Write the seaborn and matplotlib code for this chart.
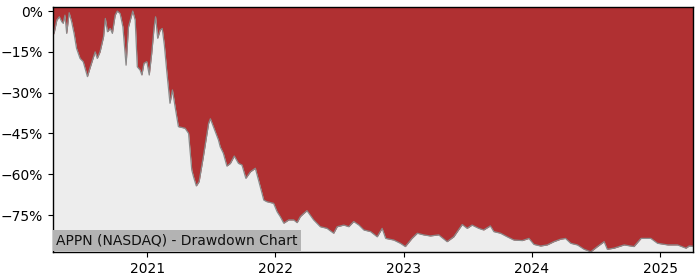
import matplotlib
matplotlib.use("Agg")
import matplotlib.pyplot as plt
import matplotlib.dates as mdates
from matplotlib.ticker import FuncFormatter
import seaborn as sns
import pandas as pd

dates = [
    "2020-04-08", "2020-04-12", "2020-04-19", "2020-04-26", "2020-05-03", "2020-05-07",
    "2020-05-12", "2020-05-17", "2020-05-24", "2020-05-31", "2020-06-07", "2020-06-14",
    "2020-06-24", "2020-07-03", "2020-07-15", "2020-07-22", "2020-08-06", "2020-08-12",
    "2020-08-20", "2020-08-30", "2020-09-04", "2020-09-10", "2020-09-18", "2020-09-24",
    "2020-10-02", "2020-10-08", "2020-10-16", "2020-10-24", "2020-11-02", "2020-11-09",
    "2020-11-21", "2020-11-28", "2020-12-04", "2020-12-12", "2020-12-17", "2020-12-23",
    "2020-12-31", "2021-01-07", "2021-01-14", "2021-01-21", "2021-01-25", "2021-01-31",
    "2021-02-07", "2021-02-13", "2021-02-19", "2021-02-26", "2021-03-07", "2021-03-14",
    "2021-03-22", "2021-03-31", "2021-04-19", "2021-04-29", "2021-05-08", "2021-05-13",
    "2021-05-21", "2021-05-29", "2021-06-10", "2021-06-25", "2021-06-30", "2021-07-12",
    "2021-07-23", "2021-07-28", "2021-08-06", "2021-08-16", "2021-08-26", "2021-09-06",
    "2021-09-18", "2021-09-28", "2021-10-09", "2021-10-22", "2021-11-05", "2021-11-14",
    "2021-11-24", "2021-11-29", "2021-12-08", "2021-12-27", "2022-01-06", "2022-01-15",
    "2022-01-25", "2022-02-08", "2022-02-22", "2022-03-04", "2022-03-13", "2022-03-23",
    "2022-04-01", "2022-04-20", "2022-05-09", "2022-05-28", "2022-06-16", "2022-06-26",
    "2022-07-15", "2022-07-29", "2022-08-12", "2022-08-27", "2022-09-10", "2022-09-29",
    "2022-10-18", "2022-11-01", "2022-11-11", "2022-12-04", "2022-12-23", "2023-01-06",
    "2023-01-25", "2023-02-09", "2023-02-27", "2023-03-18", "2023-04-11", "2023-05-05",
    "2023-05-24", "2023-06-17", "2023-07-01", "2023-07-15", "2023-08-03", "2023-08-17",
    "2023-09-05", "2023-09-15", "2023-10-04", "2023-10-23", "2023-11-11", "2023-12-05",
    "2023-12-24", "2024-01-07", "2024-01-26", "2024-02-14", "2024-03-04", "2024-03-23",
    "2024-04-06", "2024-04-21", "2024-05-10", "2024-05-29", "2024-06-17", "2024-07-06",
    "2024-07-25", "2024-08-03", "2024-08-22", "2024-09-20", "2024-10-18", "2024-11-07",
    "2024-12-05", "2024-12-24", "2025-01-22", "2025-02-19", "2025-03-15", "2025-03-24",
    "2025-04-04",
]

drawdown_pct = [
    -9.0, -7.6, -3.3, -2.1, -3.9, -4.5,
    -1.5, -8.2, -0.6, -3.9, -8.2, -13.7,
    -17.4, -18.6, -24.1, -21.1, -15.0, -17.4,
    -15.0, -9.4, -2.7, -7.6, -6.4, -8.2,
    -1.5, 0.0, -0.9, -5.8, -19.9, -5.8,
    0.0, -3.3, -20.5, -21.7, -23.5, -19.2,
    -18.6, -23.5, -15.6, -5.8, -2.1, -10.0,
    -7.0, -6.4, -12.5, -22.3, -33.9, -29.0,
    -35.5, -42.5, -43.1, -45.0, -58.4, -60.9,
    -64.3, -62.7, -53.6, -41.3, -39.6, -43.7,
    -47.4, -49.9, -52.3, -57.0, -56.0, -53.3,
    -56.0, -56.6, -61.5, -59.1, -57.8, -62.1,
    -67.0, -69.5, -70.1, -70.7, -73.8, -75.6,
    -78.0, -76.8, -76.8, -77.8, -75.6, -74.4,
    -73.4, -76.8, -79.3, -79.9, -81.7, -79.3,
    -78.7, -79.3, -77.4, -78.7, -80.5, -81.1,
    -83.0, -79.9, -83.6, -84.2, -85.4, -86.6,
    -83.6, -81.7, -82.3, -82.7, -82.3, -84.8,
    -83.0, -78.5, -79.9, -78.7, -79.9, -80.5,
    -79.0, -81.1, -81.7, -83.0, -84.2, -84.4,
    -83.6, -85.8, -86.4, -86.0, -84.8, -83.9,
    -83.6, -85.4, -86.0, -87.6, -88.5, -86.6,
    -84.8, -87.6, -87.2, -86.0, -86.6, -83.6,
    -83.6, -85.4, -86.0, -86.0, -87.2, -86.4,
    -86.5,
]

year_ticks = ["2021-01-01", "2022-01-01", "2023-01-01", "2024-01-01", "2025-01-01"]
year_labels = ["2021", "2022", "2023", "2024", "2025"]
y_ticks = [0, -15, -30, -45, -60, -75]
label_text = "APPN (NASDAQ) - Drawdown Chart"

sns.set_style("ticks")
plt.rcParams["font.family"] = ["DejaVu Sans"]

df = pd.DataFrame({"date": pd.to_datetime(dates), "dd": drawdown_pct})

fig = plt.figure(figsize=(7, 2.8), dpi=100)
ax = fig.add_axes([53 / 700, 28 / 280, 640 / 700, 245 / 280])
ax.set_facecolor("#ededed")

y_top = 1.5
y_bot = min(drawdown_pct) - 0.1
ax.fill_between(df["date"], df["dd"], y_top + 5, color="#b03032", linewidth=0, zorder=1)
sns.lineplot(data=df, x="date", y="dd", ax=ax, color="#8a8a8a", linewidth=0.9, zorder=2)

ax.set_xlim(df["date"].iloc[0], df["date"].iloc[-1])
ax.set_ylim(y_bot, y_top)
ax.set_xticks(pd.to_datetime(year_ticks))
ax.set_xticklabels(year_labels)
ax.set_yticks(y_ticks)
ax.yaxis.set_major_formatter(FuncFormatter(lambda v, p: f"{v:.0f}%".replace("-", "\u2212")))
ax.set_xlabel("")
ax.set_ylabel("")
ax.tick_params(axis="both", labelsize=10, colors="black", length=3.5, width=0.8)
for s in ax.spines.values():
    s.set_color("black")
    s.set_linewidth(1.0)

ax.text(0.005, 0.018, label_text, transform=ax.transAxes, fontsize=10, color="#111111",
        ha="left", va="bottom", zorder=5,
        bbox=dict(facecolor="#b3b3b3", edgecolor="none", pad=2.5))

fig.savefig("out.png", dpi=100)
